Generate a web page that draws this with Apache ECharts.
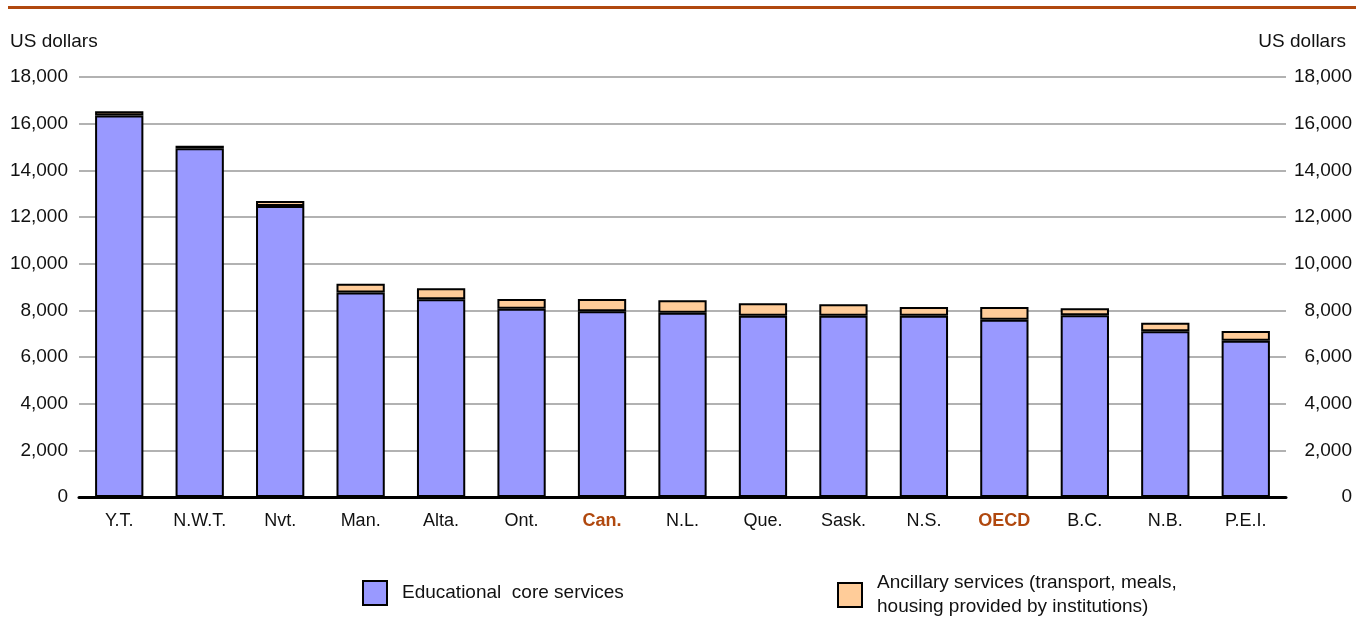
<!DOCTYPE html>
<html>
<head>
<meta charset="utf-8">
<script src="https://cdn.jsdelivr.net/npm/echarts@6/dist/echarts.min.js"></script>
<style>
html,body{margin:0;padding:0;background:#fff;}
#c{width:1364px;height:618px;}
</style>
</head>
<body>
<div id="c"></div>
<script>
const categories = ['Y.T.', 'N.W.T.', 'Nvt.', 'Man.', 'Alta.', 'Ont.', 'Can.', 'N.L.', 'Que.', 'Sask.', 'N.S.', 'OECD', 'B.C.', 'N.B.', 'P.E.I.'];
const highlighted = ['Can.', 'OECD'];
const coreServices = [16350, 14950, 12470, 8760, 8470, 8070, 7960, 7900, 7770, 7770, 7770, 7600, 7790, 7100, 6700];
const ancillaryServices = [180, 100, 220, 380, 480, 420, 530, 530, 530, 490, 370, 540, 300, 370, 410];
const seriesNames = ['Educational  core services', 'Ancillary services (transport, meals,\nhousing provided by institutions)'];
const yTicks = { min: 0, max: 18000, interval: 2000 };
const unitLabel = 'US dollars';

const FONT = 'Liberation Sans';
const chart = echarts.init(document.getElementById('c'), null, { renderer: 'canvas' });
const fmt = v => v.toLocaleString('en-US');

const yAxisCommon = {
  type: 'value',
  min: yTicks.min, max: yTicks.max, interval: yTicks.interval,
  axisLine: { show: false },
  axisTick: { show: false }
};

chart.setOption({
  animation: false,
  backgroundColor: '#fff',
  grid: { left: 79, right: 78, top: 77, bottom: 121, containLabel: false },
  legend: [
    {
      data: [seriesNames[0]],
      left: 357, top: 575,
      icon: 'rect', itemWidth: 24, itemHeight: 24,
      textStyle: { fontFamily: FONT, fontSize: 19, color: '#111', padding: [0, 0, 0, 10] }
    },
    {
      data: [seriesNames[1]],
      left: 832, top: 566,
      icon: 'rect', itemWidth: 24, itemHeight: 24,
      textStyle: { fontFamily: FONT, fontSize: 19, color: '#111', lineHeight: 24, padding: [0, 0, 0, 10] }
    }
  ],
  xAxis: {
    type: 'category',
    data: categories,
    axisLine: { show: true, onZero: true, lineStyle: { color: '#000', width: 3 } },
    axisTick: { show: false },
    axisLabel: {
      interval: 0,
      margin: 15,
      fontFamily: FONT, fontSize: 18, color: '#111',
      formatter: v => highlighted.includes(v) ? '{h|' + v + '}' : v,
      rich: { h: { fontFamily: FONT, fontSize: 18, fontWeight: 'bold', color: '#B0480E' } }
    },
    z: 10
  },
  yAxis: [
    Object.assign({}, yAxisCommon, {
      position: 'left',
      splitLine: { show: true, lineStyle: { color: '#999', width: 1.5 } },
      axisLabel: { margin: 11, fontFamily: FONT, fontSize: 19, color: '#111', formatter: fmt }
    }),
    Object.assign({}, yAxisCommon, {
      position: 'right',
      splitLine: { show: false },
      axisLabel: { margin: 66, align: 'right', fontFamily: FONT, fontSize: 19, color: '#111', formatter: fmt }
    })
  ],
  series: [
    {
      name: seriesNames[0], type: 'bar', stack: 'total', data: coreServices,
      barWidth: '60%',
      itemStyle: { color: '#9999FF', borderColor: '#000', borderWidth: 2 }
    },
    {
      name: seriesNames[1], type: 'bar', stack: 'total', data: ancillaryServices,
      barWidth: '60%',
      itemStyle: { color: '#FFCC99', borderColor: '#000', borderWidth: 2 }
    }
  ],
  graphic: [
    { type: 'rect', shape: { x: 8, y: 6, width: 1348, height: 3 }, style: { fill: '#B0480E' } },
    { type: 'text', left: 10, top: 32, style: { text: unitLabel, font: '19px "Liberation Sans"', fill: '#111' } },
    { type: 'text', right: 18, top: 32, style: { text: unitLabel, font: '19px "Liberation Sans"', fill: '#111' } }
  ]
});
</script>
</body>
</html>
